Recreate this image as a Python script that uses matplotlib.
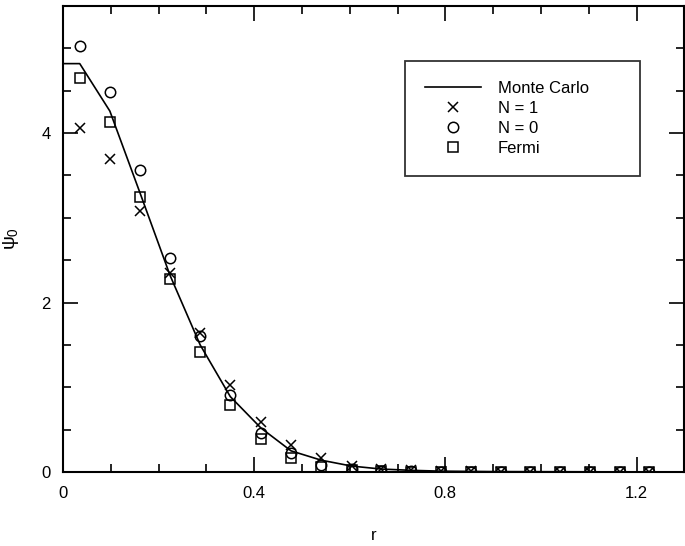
import matplotlib
matplotlib.use("Agg")
import matplotlib.pyplot as plt
from matplotlib.ticker import MultipleLocator, FixedLocator

plt.rcParams['font.family'] = ['Liberation Sans', 'DejaVu Sans']
plt.rcParams['mathtext.fontset'] = 'custom'
plt.rcParams['mathtext.rm'] = 'Liberation Sans'
plt.rcParams['mathtext.it'] = 'Liberation Sans'

# sample radii
r = [0.035, 0.098, 0.162, 0.224, 0.287, 0.350, 0.414, 0.477, 0.540, 0.604,
     0.666, 0.728, 0.791, 0.854, 0.916, 0.978, 1.040, 1.103, 1.165, 1.227]
psi_n1 = [4.06, 3.70, 3.08, 2.35, 1.64, 1.03, 0.59, 0.32, 0.16, 0.07,
          0.03, 0.02, 0.01, 0.01, 0.0, 0.0, 0.0, 0.0, 0.0, 0.0]
psi_n0 = [5.03, 4.48, 3.56, 2.53, 1.61, 0.91, 0.46, 0.22, 0.08, 0.03,
          0.01, 0.01, 0.0, 0.0, 0.0, 0.0, 0.0, 0.0, 0.0, 0.0]
psi_fermi = [4.65, 4.13, 3.25, 2.28, 1.42, 0.79, 0.39, 0.16, 0.06, 0.02,
             0.01, 0.0, 0.0, 0.0, 0.0, 0.0, 0.0, 0.0, 0.0, 0.0]

# Monte Carlo curve
mc_r = [0.0, 0.035, 0.098, 0.162, 0.224, 0.287, 0.350, 0.414, 0.477, 0.540,
        0.604, 0.666, 0.728, 0.791, 0.900, 1.300]
mc_psi = [4.82, 4.82, 4.26, 3.28, 2.32, 1.50, 0.89, 0.52, 0.25, 0.14,
          0.07, 0.035, 0.02, 0.01, 0.005, 0.0]

fig = plt.figure(figsize=(6.85, 5.46), dpi=100)
ax = fig.add_axes([0.092, 0.1355, 0.907, 0.8535])

ax.plot(mc_r, mc_psi, color='black', lw=1.2, label='Monte Carlo')
ax.plot(r, psi_n1, ls='none', marker='x', ms=7.5, mew=1.1, color='black', label='N = 1')
ax.plot(r, psi_n0, ls='none', marker='o', ms=7.5, mew=1.1, mfc='none', mec='black', label='N = 0')
ax.plot(r, psi_fermi, ls='none', marker='s', ms=7.5, mew=1.1, mfc='none', mec='black', label='Fermi')

ax.set_xlim(0, 1.3)
ax.set_ylim(0, 5.5)

ax.xaxis.set_major_locator(FixedLocator([0, 0.4, 0.8, 1.2]))
ax.xaxis.set_minor_locator(MultipleLocator(0.1))
ax.set_xticklabels(['0', '0.4', '0.8', '1.2'])
ax.yaxis.set_major_locator(FixedLocator([0, 2, 4]))
ax.yaxis.set_minor_locator(MultipleLocator(0.5))
ax.set_yticklabels(['0', '2', '4'])

ax.tick_params(which='both', direction='in', top=True, right=True, width=1.2)
ax.tick_params(which='major', length=11, labelsize=12)
ax.tick_params(axis='x', which='major', pad=10)
ax.tick_params(axis='y', which='major', pad=9)
ax.tick_params(which='minor', length=6)
for s in ax.spines.values():
    s.set_linewidth(1.5)

ax.set_xlabel('r', fontsize=12)
ax.xaxis.set_label_coords(0.5, -0.12)
ax.set_ylabel(r'$\psi_0$', fontsize=14)
ax.yaxis.set_label_coords(-0.068, 0.5)

leg = ax.legend(loc='upper left', bbox_to_anchor=(0.55, 0.882, 0.378, 0.0), mode='expand',
                fontsize=12, frameon=True, fancybox=False, borderpad=1.2,
                labelspacing=0.3, handlelength=3.4, handletextpad=1.0,
                borderaxespad=0.0)
leg.get_frame().set_edgecolor('black')
leg.get_frame().set_linewidth(1.3)

fig.savefig('out.png', dpi=100)
